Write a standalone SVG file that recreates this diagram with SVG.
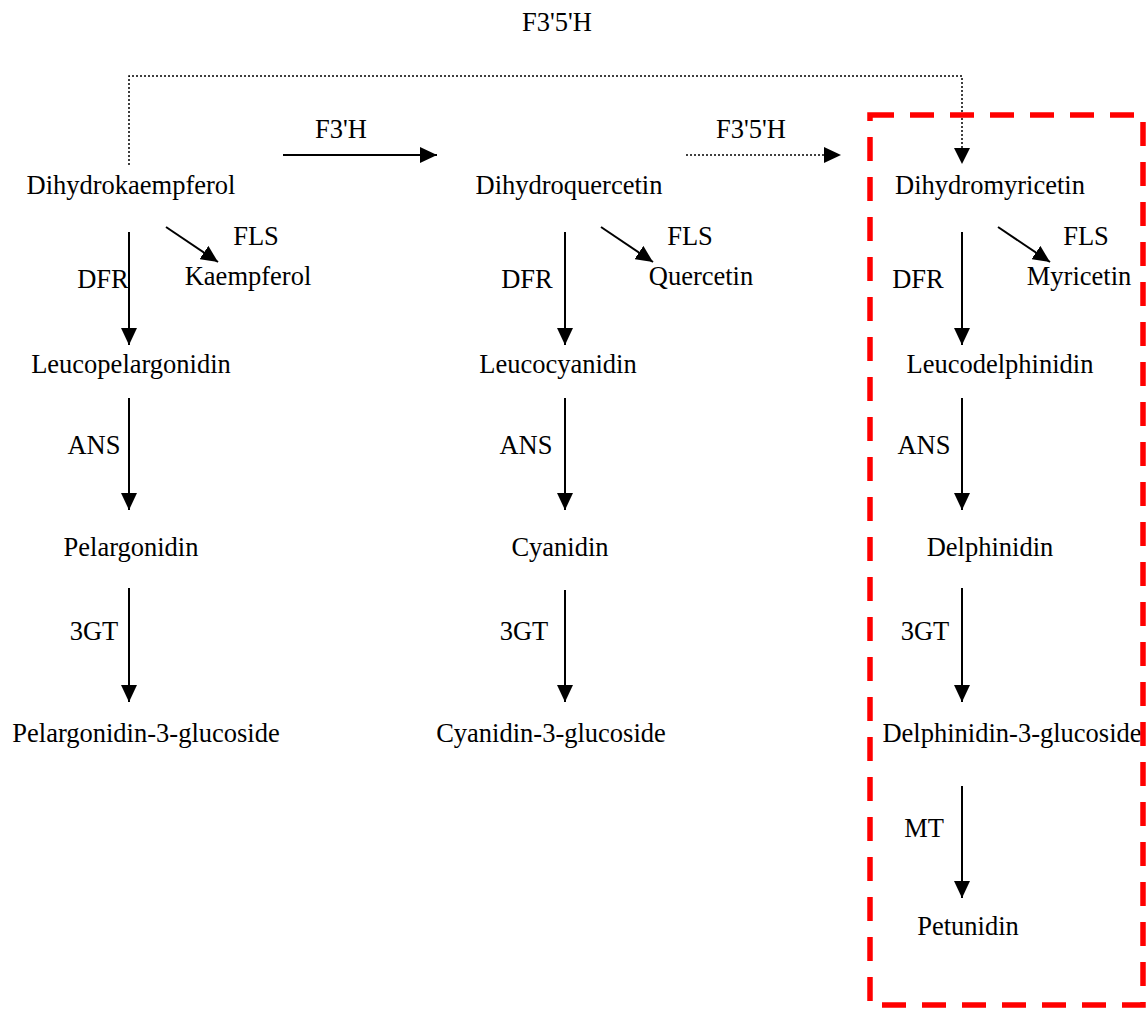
<svg xmlns="http://www.w3.org/2000/svg" width="1146" height="1010" viewBox="0 0 1146 1010">
<defs>
<style>
text{font-family:"Liberation Serif","Times New Roman",serif;font-size:26.5px;fill:#000;text-anchor:middle}
.a{stroke:#000;stroke-width:2;fill:none;marker-end:url(#h)}
.d{stroke:#000;stroke-width:1.5;fill:none;stroke-dasharray:2 2}
</style>
<marker id="h" markerUnits="userSpaceOnUse" markerWidth="17" markerHeight="16" viewBox="0 0 17 16" refX="17" refY="8" orient="auto">
<path d="M0,0 L17,8 L0,16 z" fill="#000"/>
</marker>
</defs>
<rect width="1146" height="1010" fill="#fff"/>
<g id="connectors">
<path class="d" d="M129,165 V76 H962 V150"/>
<path d="M954,148 L970,148 L962,164 z" fill="#000"/>
<line class="a" x1="283" y1="155" x2="437" y2="155"/>
<line class="d" x1="686" y1="155" x2="826" y2="155"/>
<path d="M824,147 L841,155 L824,163 z" fill="#000"/>
<line class="a" x1="129" y1="232" x2="129" y2="345"/>
<line class="a" x1="129" y1="398" x2="129" y2="510"/>
<line class="a" x1="129" y1="588" x2="129" y2="702"/>
<line class="a" x1="565" y1="232" x2="565" y2="345"/>
<line class="a" x1="565" y1="398" x2="565" y2="510"/>
<line class="a" x1="565" y1="590" x2="565" y2="702"/>
<line class="a" x1="962" y1="232" x2="962" y2="345"/>
<line class="a" x1="962" y1="398" x2="962" y2="510"/>
<line class="a" x1="962" y1="588" x2="962" y2="702"/>
<line class="a" x1="962" y1="786" x2="962" y2="898"/>
<line class="a" x1="166" y1="227" x2="218" y2="262"/>
<line class="a" x1="601" y1="227" x2="653" y2="262"/>
<line class="a" x1="998" y1="227" x2="1050" y2="262"/>
</g>
<g id="labels">
<text x="557" y="31">F3'5'H</text>
<text x="341" y="138">F3'H</text>
<text x="751" y="138">F3'5'H</text>
<text x="103" y="288">DFR</text>
<text x="94" y="454">ANS</text>
<text x="94" y="640">3GT</text>
<text x="256" y="245">FLS</text>
<text x="527" y="288">DFR</text>
<text x="526" y="454">ANS</text>
<text x="524" y="640">3GT</text>
<text x="690" y="245">FLS</text>
<text x="918" y="288">DFR</text>
<text x="924" y="454">ANS</text>
<text x="925" y="640">3GT</text>
<text x="924" y="837">MT</text>
<text x="1086" y="245">FLS</text>
</g>
<g id="n-dihydrokaempferol"><text x="131" y="194">Dihydrokaempferol</text></g>
<g id="n-kaempferol"><text x="248" y="285">Kaempferol</text></g>
<g id="n-leucopelargonidin"><text x="131" y="373">Leucopelargonidin</text></g>
<g id="n-pelargonidin"><text x="131" y="556">Pelargonidin</text></g>
<g id="n-pelargonidin3g"><text x="146" y="742">Pelargonidin-3-glucoside</text></g>
<g id="n-dihydroquercetin"><text x="569" y="194">Dihydroquercetin</text></g>
<g id="n-quercetin"><text x="701" y="285">Quercetin</text></g>
<g id="n-leucocyanidin"><text x="558" y="373">Leucocyanidin</text></g>
<g id="n-cyanidin"><text x="560" y="556">Cyanidin</text></g>
<g id="n-cyanidin3g"><text x="551" y="742">Cyanidin-3-glucoside</text></g>
<g id="n-dihydromyricetin"><text x="990" y="194">Dihydromyricetin</text></g>
<g id="n-myricetin"><text x="1079" y="285">Myricetin</text></g>
<g id="n-leucodelphinidin"><text x="1000" y="373">Leucodelphinidin</text></g>
<g id="n-delphinidin"><text x="990" y="556">Delphinidin</text></g>
<g id="n-delphinidin3g"><text x="1012" y="742">Delphinidin-3-glucoside</text></g>
<g id="n-petunidin"><text x="968" y="935">Petunidin</text></g>
<g id="highlight"><rect x="870" y="115" width="273" height="890" fill="none" stroke="#f00" stroke-width="5.5" stroke-dasharray="24 16"/></g>
</svg>
